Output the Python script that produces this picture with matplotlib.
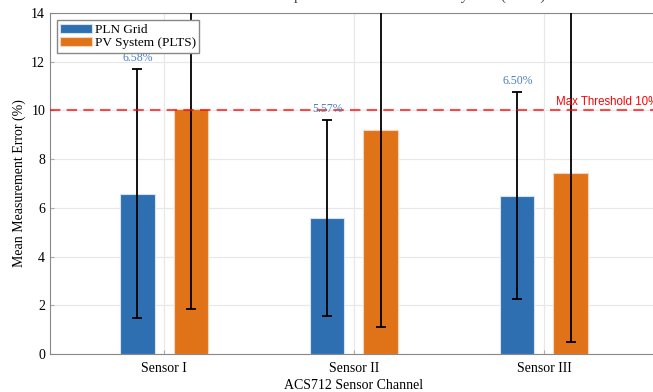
import matplotlib
matplotlib.use("Agg")
import matplotlib.pyplot as plt
import numpy as np

plt.rcParams['font.family'] = ['Liberation Serif', 'DejaVu Serif']

sensors = ["Sensor I", "Sensor II", "Sensor III"]
pln_mean = [6.58, 5.57, 6.50]
pln_std = [5.12, 4.03, 4.25]
pv_mean = [10.05, 9.20, 7.42]
pv_std = [8.20, 8.10, 6.92]
threshold = 10

x = np.arange(len(sensors))
w = 0.18
off = 0.14

fig = plt.figure(figsize=(6.53, 3.92), dpi=100)
ax = fig.add_axes([0.0766, 0.097, 0.931, 0.870])

ax.bar(x - off, pln_mean, w, yerr=pln_std, capsize=3.5, color="#2E6FB2",
       edgecolor="#d8e2ee", linewidth=0.8, label="PLN Grid",
       error_kw=dict(ecolor="black", elinewidth=1.3, capthick=1.3), zorder=3)
ax.bar(x + off, pv_mean, w, yerr=pv_std, capsize=3.5, color="#E07318",
       edgecolor="#f3d6bf", linewidth=0.8, label="PV System (PLTS)",
       error_kw=dict(ecolor="black", elinewidth=1.3, capthick=1.3), zorder=3)

for i in range(len(sensors)):
    ax.text(x[i] - off, pln_mean[i] + pln_std[i] + 0.2, f"{pln_mean[i]:.2f}%",
            ha="center", va="bottom", fontsize=8.5, color="#4A7FC0", zorder=5)
    ax.text(x[i] + off, pv_mean[i] + pv_std[i] + 0.2, f"{pv_mean[i]:.2f}%",
            ha="center", va="bottom", fontsize=8.5, color="#4A7FC0", zorder=5)

ax.axhline(threshold, color="red", linestyle="--", linewidth=1.5, alpha=0.7,
           dashes=(5, 3), zorder=4)
ax.text(2.6, threshold + 0.08, "Max Threshold 10%", color="red", fontsize=8.3,
        ha="right", va="bottom", family="Liberation Sans", zorder=5)

ax.set_xlim(-0.6, 2.6)
ax.set_ylim(0, 14)
ax.set_xticks(x)
ax.set_xticklabels(sensors, fontsize=10)
ax.set_yticks(np.arange(0, 15, 2))
ax.tick_params(axis="both", direction="in", color="#aaaaaa", labelsize=10, length=3)
ax.tick_params(axis="x", pad=6)
ax.grid(True, color="#e8e8e8", linewidth=0.9, zorder=0)
ax.set_axisbelow(True)
for s in ax.spines.values():
    s.set_color("#888888")

ax.set_ylabel("Mean Measurement Error (%)", fontsize=10)
ax.set_xlabel("ACS712 Sensor Channel", fontsize=10, labelpad=3)

ax.legend(loc="upper left", fontsize=9.5, fancybox=False, edgecolor="#888888",
          framealpha=1, borderpad=0.25, handlelength=2.4, handletextpad=0.2,
          labelspacing=0.1, borderaxespad=0.3, bbox_to_anchor=(0.005, 0.99))

fig.text(0.52, 0.9995, "ACS712 Mean Error Comparison: PLN Grid vs PV System (PLTS)",
         ha="center", va="baseline", fontsize=11, color="#444444")

fig.savefig("out.png", dpi=100)
